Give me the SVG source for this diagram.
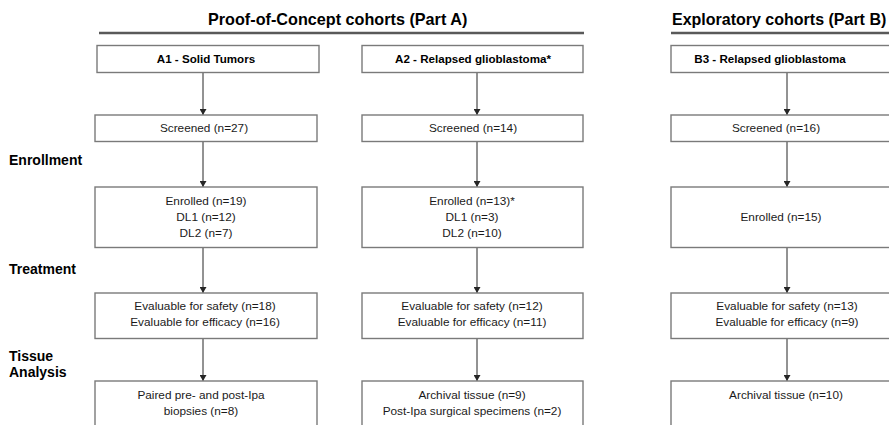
<svg xmlns="http://www.w3.org/2000/svg" width="889" height="425" viewBox="0 0 889 425">
<defs>
<marker id="ah" markerWidth="6" markerHeight="7" refX="6" refY="3.5" orient="auto" markerUnits="userSpaceOnUse">
<path d="M0,0 L6,3.5 L0,7 Z" fill="#262626"/>
</marker>
<style>
.box{fill:#ffffff;stroke:#7a7a7a;stroke-width:1.4}
.t{font-family:"Liberation Sans",Arial,sans-serif;font-size:11.8px;fill:#1a1a1a;text-anchor:middle}
.h{font-family:"Liberation Sans",Arial,sans-serif;font-size:11.6px;font-weight:bold;fill:#000;text-anchor:middle}
.title{font-family:"Liberation Sans",Arial,sans-serif;font-size:16px;font-weight:bold;fill:#000}
.lab{font-family:"Liberation Sans",Arial,sans-serif;font-size:14px;font-weight:bold;fill:#000}
.rule{stroke:#595959;stroke-width:2.5}
.arr{stroke:#262626;stroke-width:1;fill:none;marker-end:url(#ah)}
</style>
</defs>
<rect width="889" height="425" fill="#ffffff"/>

<g id="titles">
<text class="title" x="208" y="25" style="font-size:16.2px">Proof-of-Concept cohorts (Part A)</text>
<line class="rule" x1="99" y1="33" x2="584" y2="33"/>
<text class="title" x="672" y="25">Exploratory cohorts (Part B)</text>
<line class="rule" x1="671" y1="33" x2="889" y2="33"/>
</g>

<g id="stage-labels">
<text class="lab" x="9" y="165">Enrollment</text>
<text class="lab" x="9" y="274">Treatment</text>
<text class="lab" x="9" y="361">Tissue</text>
<text class="lab" x="9" y="377">Analysis</text>
</g>

<g id="connectors">
<line class="arr" x1="203" y1="72.5" x2="203" y2="115"/>
<line class="arr" x1="203" y1="141.5" x2="203" y2="187"/>
<line class="arr" x1="203" y1="247.5" x2="203" y2="293"/>
<line class="arr" x1="203" y1="338.5" x2="203" y2="381"/>
<line class="arr" x1="477" y1="72.5" x2="477" y2="115"/>
<line class="arr" x1="477" y1="141.5" x2="477" y2="187"/>
<line class="arr" x1="477" y1="247.5" x2="477" y2="293"/>
<line class="arr" x1="477" y1="338.5" x2="477" y2="381"/>
<line class="arr" x1="787" y1="72.5" x2="787" y2="115"/>
<line class="arr" x1="787" y1="141.5" x2="787" y2="187"/>
<line class="arr" x1="787" y1="247.5" x2="787" y2="293"/>
<line class="arr" x1="787" y1="338.5" x2="787" y2="381"/>
</g>

<g id="a1-header">
<rect class="box" x="97" y="45.5" width="222" height="27"/>
<text class="h" x="206" y="63">A1 - Solid Tumors</text>
</g>
<g id="a1-screened">
<rect class="box" x="95" y="115" width="222" height="26.5"/>
<text class="t" x="204" y="132">Screened (n=27)</text>
</g>
<g id="a1-enrolled">
<rect class="box" x="95" y="187" width="222" height="60.5"/>
<text class="t" x="206" y="204.5">Enrolled (n=19)</text>
<text class="t" x="206" y="220.5">DL1 (n=12)</text>
<text class="t" x="206" y="236.5">DL2 (n=7)</text>
</g>
<g id="a1-evaluable">
<rect class="box" x="95" y="293" width="222" height="45.5"/>
<text class="t" x="205" y="309.5">Evaluable for safety (n=18)</text>
<text class="t" x="205" y="325.5">Evaluable for efficacy (n=16)</text>
</g>
<g id="a1-tissue">
<rect class="box" x="95" y="381" width="222" height="60"/>
<text class="t" x="201" y="399">Paired pre- and post-Ipa</text>
<text class="t" x="201" y="415">biopsies (n=8)</text>
</g>

<g id="a2-header">
<rect class="box" x="362" y="45.5" width="221" height="27"/>
<text class="h" x="473" y="63">A2 - Relapsed glioblastoma*</text>
</g>
<g id="a2-screened">
<rect class="box" x="362" y="115" width="221" height="26.5"/>
<text class="t" x="473" y="132">Screened (n=14)</text>
</g>
<g id="a2-enrolled">
<rect class="box" x="362" y="187" width="221" height="60.5"/>
<text class="t" x="472" y="204.5">Enrolled (n=13)*</text>
<text class="t" x="472" y="220.5">DL1 (n=3)</text>
<text class="t" x="472" y="236.5">DL2 (n=10)</text>
</g>
<g id="a2-evaluable">
<rect class="box" x="362" y="293" width="221" height="45.5"/>
<text class="t" x="472" y="309.5">Evaluable for safety (n=12)</text>
<text class="t" x="472" y="325.5">Evaluable for efficacy (n=11)</text>
</g>
<g id="a2-tissue">
<rect class="box" x="362" y="381" width="221" height="60"/>
<text class="t" x="472" y="399">Archival tissue (n=9)</text>
<text class="t" x="472" y="415">Post-Ipa surgical specimens (n=2)</text>
</g>

<g id="b3-header">
<rect class="box" x="671" y="45.5" width="230" height="27"/>
<text class="h" x="770" y="63">B3 - Relapsed glioblastoma</text>
</g>
<g id="b3-screened">
<rect class="box" x="671" y="115" width="230" height="26.5"/>
<text class="t" x="776" y="132">Screened (n=16)</text>
</g>
<g id="b3-enrolled">
<rect class="box" x="671" y="187" width="230" height="60.5"/>
<text class="t" x="781" y="221">Enrolled (n=15)</text>
</g>
<g id="b3-evaluable">
<rect class="box" x="671" y="293" width="230" height="45.5"/>
<text class="t" x="787" y="309.5">Evaluable for safety (n=13)</text>
<text class="t" x="787" y="325.5">Evaluable for efficacy (n=9)</text>
</g>
<g id="b3-tissue">
<rect class="box" x="671" y="381" width="230" height="60"/>
<text class="t" x="786" y="399">Archival tissue (n=10)</text>
</g>
</svg>
